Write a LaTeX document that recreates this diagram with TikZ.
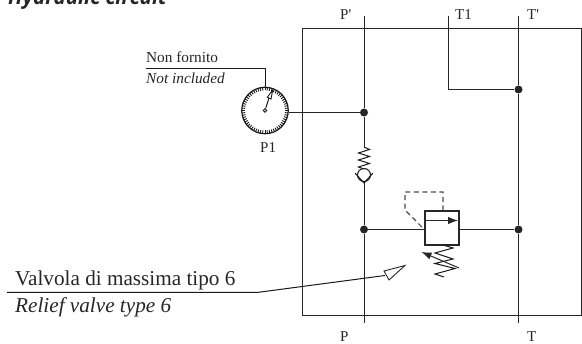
\documentclass[tikz,border=0pt]{standalone}
\usepackage{fontspec}
\setmainfont{Liberation Serif}
\newfontfamily\headfont{Open Sans}
\usetikzlibrary{arrows.meta}
\begin{document}
\begin{tikzpicture}[
x=1pt,y=-1pt,
pipe/.style={draw=black!85,line width=1pt},
thin pipe/.style={draw=black!90,line width=1pt},
dot/.style={circle,fill=black!85,inner sep=0pt,minimum size=8pt},
tag/.style={anchor=base west,inner sep=0pt,text=black!85,font=\fontsize{15.3}{18}\selectfont},
big tag/.style={anchor=base west,inner sep=0pt,text=black!85,font=\fontsize{21.2}{24}\selectfont},
port/.style={anchor=base west,inner sep=0pt,text=black!85,font=\fontsize{15}{18}\selectfont},
]
\useasboundingbox (0,0) rectangle (582,344);
% heading, cut by the page edge
\node[anchor=base west,inner sep=0pt,text=black!85,font=\headfont\bfseries\itshape\fontsize{20.5}{24}\selectfont] (head) at (8,4.5) {Hydraulic circuit};
% block
\path[pipe] (302.5,28.5) rectangle (581.5,315.5);
% ports
\node[port] (pp) at (340,20) {P\textquotesingle};
\node[port] (pt1) at (455,20) {T1};
\node[port] (ptp) at (527,20) {T\textquotesingle};
\node[port] (pb) at (340,341.5) {P};
\node[port] (tb) at (527,341.5) {T};
\coordinate (ptop) at (364,16);
\coordinate (pbot) at (364,323);
\coordinate (ttop) at (518.5,16);
\coordinate (tbot) at (518.5,323);
\coordinate (tonetop) at (448,16);
\coordinate (tonecor) at (448,89.5);
% junctions
\node[dot] (jgauge) at (364,112.5) {};
\node[dot] (jrelief) at (364,229.5) {};
\node[dot] (jtone) at (518.5,89.5) {};
\node[dot] (jtank) at (518.5,229.5) {};
\path[pipe]
    (ptop) -- (jgauge) -- (364,147)
    (364,183) -- (jrelief) -- (pbot)
    (ttop) -- (jtone) -- (jtank) -- (tbot)
    (tonetop) -- (tonecor) -- (jtone);
% gauge
\node[circle,draw=black!90,line width=1.2pt,inner sep=0pt,minimum size=46.5pt] (gauge) at (265,110.5) {};
\foreach \a in {0,6,...,354}
    \draw[black!90,line width=0.9pt] (gauge.center) ++(\a:20) -- ++(\a:3);
\node[circle,draw=black!90,fill=white,line width=0.9pt,inner sep=0pt,minimum size=3.5pt] (hub) at (265,110.5) {};
\coordinate (needle) at (269,98);
\draw[black!90,line width=1pt] (hub) -- (needle);
\draw[black!90,line width=0.9pt,fill=white] (267.3,97.3) -- (272.7,90) -- (271,99) -- cycle;
\path[pipe] (gauge.east |- jgauge) -- (jgauge);
\coordinate (tagl) at (146,68.5);
\coordinate (tagc) at (265,68.5);
\path[thin pipe] (tagl) -- (tagc) -- (gauge.north);
\node[tag] (nonf) at (146,63) {Non fornito};
\node[tag] (noti) at (146,84) {\itshape Not included};
\node[port] (pone) at (260,153) {P1};
% check valve with spring
\path[thin pipe,line join=miter]
    (364,147) -- (369.5,149.5) -- (358.5,153) -- (369.5,156.5) -- (358.5,160) -- (369.5,163.5) -- (358.5,167) -- (364,169);
\node[circle,draw=black!85,line width=1.1pt,inner sep=0pt,minimum size=13pt] (ball) at (364,175) {};
\path[thin pipe] (355,173) -- (364,183) -- (373,173);
% relief valve
\node[draw=black!85,line width=1.1pt,inner sep=0pt,minimum width=34pt,minimum height=34pt] (relief) at (442,228) {};
\path[pipe] (jrelief) -- (relief.west |- jrelief);
\path[pipe] (relief.east |- jtank) -- (jtank);
\coordinate (flowl) at (425,220.5);
\coordinate (flowr) at (458,220.5);
\draw[black!85,line width=1pt,-{Latex[length=10pt,width=7.5pt]}] (flowl) -- (flowr);
\draw[black!70,line width=1.1pt,dash pattern=on 5pt off 3.5pt]
    (relief.north) ++(1,0) -- (443,192) -- (405,192) -- (405,210) -- (relief.west |- jrelief);
\path[thin pipe]
    (443,245) -- (453,248) -- (435,253) -- (453,259) -- (435,263.5) -- (455,268.5) -- (435,274) -- (444,277);
\draw[black!85,line width=1pt,-{Latex[length=10pt,width=7.5pt]}] (459,268) -- (421.5,252);
% leader to the relief valve
\node[big tag] (valv) at (15,286) {Valvola di massima tipo 6};
\node[big tag] (reli) at (15,312.7) {\itshape Relief valve type 6};
\coordinate (leadl) at (7,292.5);
\coordinate (leadm) at (257,292.5);
\coordinate (leadr) at (385,275.5);
\path[thin pipe] (leadl) -- (leadm) -- (leadr);
\draw[black!85,line width=0.9pt,fill=white] (384,271) -- (405,265.5) -- (389,280) -- cycle;
\end{tikzpicture}
\end{document}
